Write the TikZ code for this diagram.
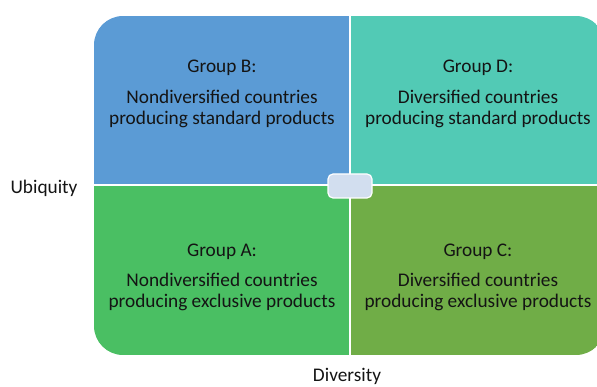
\documentclass[tikz,border=0pt]{standalone}
\usepackage{fontspec}
\setmainfont{Carlito}
\begin{document}
\begin{tikzpicture}[x=1pt,y=-1pt,
  quadtext/.style={align=center,font=\fontsize{19.3}{21}\selectfont,text=black!92},
  axislabel/.style={font=\fontsize{19.3}{21}\selectfont,text=black!92},
  divider/.style={draw=white,line width=1.6pt}]
\definecolor{qblue}{HTML}{5B9BD5}
\definecolor{qteal}{HTML}{52CAB5}
\definecolor{qgreen}{HTML}{4ABF63}
\definecolor{qolive}{HTML}{70AD47}
\definecolor{hubfill}{HTML}{D2DEEF}
\useasboundingbox (0,0) rectangle (597,387);
\clip (0,0) rectangle (597,387);
% four quadrants, outer corners rounded
\begin{scope}
  \clip[rounded corners=29pt] (94,16) rectangle (605,355);
  \fill[qblue]  (94,16)   rectangle (350,185);
  \fill[qteal]  (350,16)  rectangle (605,185);
  \fill[qgreen] (94,185)  rectangle (350,355);
  \fill[qolive] (350,185) rectangle (605,355);
\end{scope}
\coordinate (vtop) at (350,16);
\coordinate (vbot) at (350,355);
\coordinate (hleft) at (94,185);
\coordinate (hright) at (605,185);
\draw[divider] (vtop) -- (vbot);
\draw[divider] (hleft) -- (hright);
% small hub at the crossing
\node[draw=white,line width=1.2pt,fill=hubfill,rounded corners=5pt,
  minimum width=44pt,minimum height=24pt,inner sep=0pt] (hub) at (350,186) {};
% quadrant labels
\node[quadtext] (gB) at (222,68) {Group B:};
\node[quadtext,anchor=north] (tB) at (222,87) {Nondiversified countries\\producing standard products};
\node[quadtext] (gD) at (478,68) {Group D:};
\node[quadtext,anchor=north] (tD) at (478,87) {Diversified countries\\producing standard products};
\node[quadtext] (gA) at (222,252) {Group A:};
\node[quadtext,anchor=north] (tA) at (222,270) {Nondiversified countries\\producing exclusive products};
\node[quadtext] (gC) at (478,252) {Group C:};
\node[quadtext,anchor=north] (tC) at (478,270) {Diversified countries\\producing exclusive products};
% axis labels
\node[axislabel] (ubiq) at (44,188) {Ubiquity};
\node[axislabel,inner sep=1pt] (divers) at (347,376) {Diversity};
\end{tikzpicture}
\end{document}
